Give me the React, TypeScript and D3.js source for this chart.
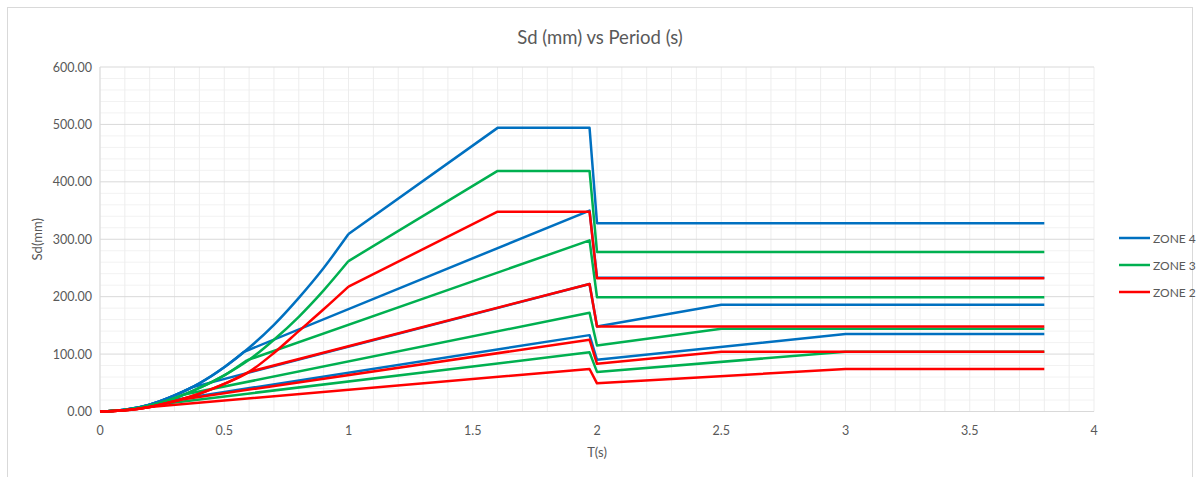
import React from "react";
import * as d3 from "d3";

// curve part (Sd grows ~T^2) sampled per zone
const periods = [0, 0.1, 0.2, 0.3, 0.4, 0.5, 0.6, 0.7, 0.8, 0.9, 1.0];
const zone4Rise = [0, 3, 12, 28, 49, 77, 111, 151, 198, 250, 309];
const zone3Rise = [0, 2.5, 10, 23, 41, 63, 90, 125, 165, 211, 262];
const zone2Rise = [0, 2, 8, 18, 31, 48, 69, 102, 140, 178, 217.5];

// knots [T, Sd] after each line leaves the curve
const zone4Lines = [
  [[1.0, 309], [1.6, 494], [1.97, 494], [2.0, 328], [3.8, 328]],
  [[0.58, 104], [1.97, 350], [2.0, 233], [3.8, 233]],
  [[0.37, 42], [1.97, 222], [2.0, 148], [2.5, 186], [3.8, 186]],
  [[0.22, 15], [1.97, 133], [2.0, 90], [3.0, 135], [3.8, 135]],
];
const zone3Lines = [
  [[1.0, 262], [1.6, 419], [1.97, 419], [2.0, 278], [3.8, 278]],
  [[0.59, 89], [1.97, 298], [2.0, 199], [3.8, 199]],
  [[0.334, 29], [1.97, 172], [2.0, 115], [2.5, 144], [3.8, 144]],
  [[0.2, 10.5], [1.97, 103], [2.0, 69], [3.0, 104], [3.8, 104]],
];
const zone2Lines = [
  [[1.0, 217.5], [1.6, 348], [1.97, 348], [2.0, 232], [3.8, 232]],
  [[0.6, 69], [1.97, 222], [2.0, 148], [3.8, 148]],
  [[0.33, 21], [1.97, 125], [2.0, 83], [2.5, 104], [3.8, 104]],
  [[0.2, 8], [1.97, 74], [2.0, 49], [3.0, 74], [3.8, 74]],
];

const zoneNames = ["ZONE 4", "ZONE 3", "ZONE 2"];
const zoneColors = ["#0070C0", "#00B050", "#FF0000"];

const xTicks = [0, 0.5, 1, 1.5, 2, 2.5, 3, 3.5, 4];
const yTicks = [0, 100, 200, 300, 400, 500, 600];

const FONT = "Lato, 'Open Sans', sans-serif";
const TEXT = "#595959";

export default function App() {
  const x = d3.scaleLinear().domain([0, 4]).range([100, 1094]);
  const y = d3.scaleLinear().domain([0, 600]).range([411.5, 67]);

  const smooth = d3
    .line<number[]>()
    .x((d) => x(d[0]))
    .y((d) => y(d[1]))
    .curve(d3.curveMonotoneX);
  const straight = d3
    .line<number[]>()
    .x((d) => x(d[0]))
    .y((d) => y(d[1]));

  // smooth rise up to the branch point, straight segments after it
  const build = (rise: number[], knots: number[][]) => {
    const start = knots[0][0];
    const head = periods
      .map((t, i) => [t, rise[i]])
      .filter((d) => d[0] < start - 1e-6);
    head.push(knots[0]);
    return (smooth(head) || "") + (straight(knots) || "");
  };

  const zones = [
    { rise: zone4Rise, lines: zone4Lines },
    { rise: zone3Rise, lines: zone3Lines },
    { rise: zone2Rise, lines: zone2Lines },
  ];

  const xMinor = d3.range(0, 40.5, 1).map((i) => i / 10);
  const yMinor = d3.range(0, 601, 20).filter((v) => v % 100 !== 0);

  return (
    <svg
      width={1200}
      height={477}
      style={{ position: "absolute", left: 0, top: 0, background: "#fff" }}
    >
      <rect
        x={7.5}
        y={7.5}
        width={1185}
        height={490}
        fill="#fff"
        stroke="#d9d9d9"
      />
      <text
        x={600}
        y={44}
        textAnchor="middle"
        fontFamily={FONT}
        fontSize={18.5}
        fill={TEXT}
      >
        Sd (mm) vs Period (s)
      </text>

      {/* gridlines */}
      <g>
        {yMinor.map((v) => (
          <line
            key={"ym" + v}
            x1={x(0)}
            x2={x(4)}
            y1={y(v)}
            y2={y(v)}
            stroke="#f2f2f2"
          />
        ))}
        {xMinor.map((t) => (
          <line
            key={"xm" + t}
            x1={x(t)}
            x2={x(t)}
            y1={y(0)}
            y2={y(600)}
            stroke="#ededed"
          />
        ))}
        {yTicks.map((v) => (
          <line
            key={"y" + v}
            x1={x(0)}
            x2={x(4)}
            y1={y(v)}
            y2={y(v)}
            stroke="#d9d9d9"
          />
        ))}
        <line x1={x(0)} x2={x(0)} y1={y(0)} y2={y(600)} stroke="#d9d9d9" />
      </g>

      {/* axis labels */}
      <g fontFamily={FONT} fontSize={12.5} fill={TEXT}>
        {yTicks.map((v) => (
          <text key={v} x={92} y={y(v) + 4.5} textAnchor="end">
            {v.toFixed(2)}
          </text>
        ))}
        {xTicks.map((t) => (
          <text key={t} x={x(t)} y={435} textAnchor="middle">
            {String(t)}
          </text>
        ))}
      </g>
      <text
        x={x(2)}
        y={457}
        textAnchor="middle"
        fontFamily={FONT}
        fontSize={13}
        fill={TEXT}
      >
        T(s)
      </text>
      <text
        transform={`translate(42,${(y(0) + y(600)) / 2}) rotate(-90)`}
        textAnchor="middle"
        fontFamily={FONT}
        fontSize={13}
        fill={TEXT}
      >
        Sd(mm)
      </text>

      {/* series */}
      <g fill="none" strokeWidth={2.5} strokeLinejoin="round">
        {zones.map((z, zi) =>
          z.lines.map((k, li) => (
            <path
              key={zi + "-" + li}
              d={build(z.rise, k)}
              stroke={zoneColors[zi]}
            />
          ))
        )}
      </g>

      {/* legend */}
      <g fontFamily={FONT} fontSize={12} fill={TEXT}>
        {zoneNames.map((n, i) => (
          <g key={n} transform={`translate(1119,${238 + i * 27})`}>
            <line x1={0} x2={31} y1={0} y2={0} stroke={zoneColors[i]} strokeWidth={2.5} />
            <text x={34} y={4.5}>
              {n}
            </text>
          </g>
        ))}
      </g>
    </svg>
  );
}
